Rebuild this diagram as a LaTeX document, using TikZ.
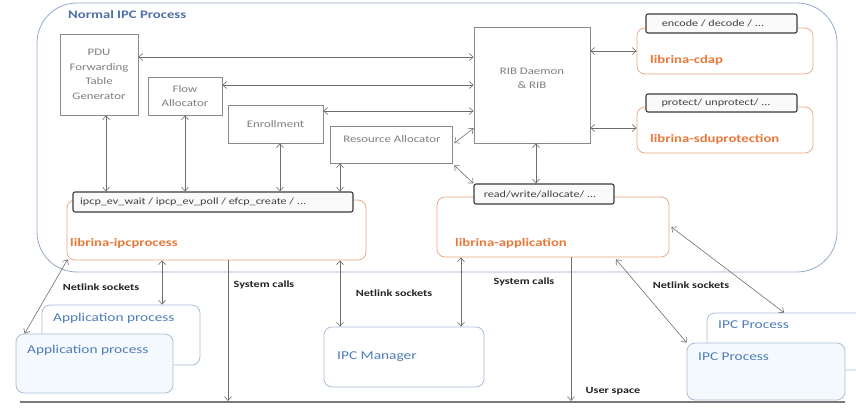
\documentclass[tikz,border=0pt]{standalone}
\usepackage{fontspec}
\setmainfont{Carlito}[FakeStretch=1.28]
\usetikzlibrary{arrows.meta,calc}

\definecolor{outerline}{HTML}{93AACB}
\definecolor{titleblue}{HTML}{4F6FA5}
\definecolor{boxgray}{HTML}{8A8A8A}
\definecolor{boxtext}{HTML}{7F7F7F}
\definecolor{tabline}{HTML}{3A3A3A}
\definecolor{tabfill}{HTML}{FAFAFA}
\definecolor{tabtext}{HTML}{404040}
\definecolor{libline}{HTML}{EBA47E}
\definecolor{libtext}{HTML}{E8793A}
\definecolor{procline}{HTML}{A9BDD6}
\definecolor{procfill}{HTML}{F4F9FD}
\definecolor{proctext}{HTML}{4F7CBA}
\definecolor{lbltext}{HTML}{222222}
\definecolor{arrgray}{HTML}{6E6E6E}
\definecolor{basegray}{HTML}{7A7A7A}

\begin{document}
\begin{tikzpicture}[x=1pt,y=-1pt,
  outerbox/.style={draw=outerline, line width=0.8pt, rounded corners=40pt, inner sep=0pt},
  titletxt/.style={text=titleblue, font=\bfseries\fontsize{11.5}{13}\selectfont, anchor=west, inner sep=0pt},
  box/.style={draw=boxgray, line width=0.6pt, fill=white, inner sep=0pt, text=boxtext,
              font=\fontsize{10}{14.5}\selectfont, align=center},
  boxtxt/.style={text=boxtext, font=\fontsize{10}{14}\selectfont, align=center, inner sep=0pt},
  tab/.style={draw=tabline, line width=1.1pt, rounded corners=2pt, fill=tabfill, inner sep=0pt},
  tabtxt/.style={text=tabtext, font=\fontsize{9.5}{11}\selectfont, inner sep=0pt},
  lib/.style={draw=libline, line width=0.7pt, rounded corners=8pt, fill=white, inner sep=0pt},
  libtxt/.style={text=libtext, font=\bfseries\fontsize{11.5}{13}\selectfont, anchor=west, inner sep=0pt},
  proc/.style={draw=procline, line width=0.8pt, rounded corners=8pt, fill=white, inner sep=0pt},
  procfront/.style={proc, fill=procfill},
  proctxt/.style={text=proctext, font=\fontsize{12}{14}\selectfont, anchor=west, inner sep=0pt},
  lbl/.style={text=lbltext, font=\bfseries\fontsize{9.5}{11}\selectfont, inner sep=0pt},
  arr/.style={draw=arrgray, line width=0.6pt,
              {Straight Barb[length=4pt,width=7pt]}-{Straight Barb[length=4pt,width=7pt]}},
  arrd/.style={draw=arrgray, line width=0.6pt, -{Straight Barb[length=4pt,width=7pt]}},
  base/.style={draw=basegray, line width=2pt}
]
\useasboundingbox (0,0) rectangle (856,408);

% ---- Normal IPC Process container ----
\node[outerbox, minimum width=800pt, minimum height=269pt] (nipcp) at (437,137.5) {};
\node[titletxt] (title) at (68,15) {Normal IPC Process};

% ---- components inside the IPC process ----
\node[box, minimum width=78pt, minimum height=81pt] (pdu) at (99,74.5)
  {PDU\\Forwarding\\Table\\Generator};
\node[box, minimum width=74pt, minimum height=38pt] (flow) at (185,96) {Flow\\Allocator};
\node[box, minimum width=95pt, minimum height=38pt] (enroll) at (275.5,124) {Enrollment};
\node[box, minimum width=122pt, minimum height=37pt] (ra) at (391,144.5) {};
\node[boxtxt] (ratxt) at (392,139) {Resource Allocator};
\node[box, minimum width=116pt, minimum height=116pt] (rib) at (532,85) {};
\node[boxtxt] (ribtxt) at (532,78) {RIB Daemon\\\& RIB};

% ---- librina-cdap ----
\node[lib, minimum width=176pt, minimum height=46pt] (cdap) at (725,51) {};
\node[libtxt] (cdaptxt) at (650,60) {librina-cdap};
\node[tab, minimum width=151pt, minimum height=19pt] (cdaptab) at (721.5,23.5) {};
\node[tabtxt] (cdaptabtxt) at (713,23.5) {encode / decode / ...};

% ---- librina-sduprotection ----
\node[lib, minimum width=176pt, minimum height=46pt] (sdu) at (725,130) {};
\node[libtxt] (sdutxt) at (650,139) {librina-sduprotection};
\node[tab, minimum width=151pt, minimum height=18pt] (sdutab) at (721.5,103) {};
\node[tabtxt] (sdutabtxt) at (716,103) {protect/ unprotect/ ...};

% ---- librina-ipcprocess ----
\node[lib, minimum width=299pt, minimum height=60pt] (ipcp) at (216.5,230) {};
\node[libtxt] (ipcptxt) at (70,243) {librina-ipcprocess};
\node[tab, minimum width=280pt, minimum height=20pt] (ipcptab) at (213,202) {};
\node[tabtxt, anchor=west] (ipcptabtxt) at (80,202) {ipcp\_ev\_wait / ipcp\_ev\_poll / efcp\_create / ...};

% ---- librina-application ----
\node[lib, minimum width=232pt, minimum height=60pt] (app) at (553,227) {};
\node[libtxt] (apptxt) at (455,243) {librina-application};
\node[tab, minimum width=140pt, minimum height=20pt] (apptab) at (544,194) {};
\node[tabtxt] (apptabtxt) at (540,194) {read/write/allocate/ ...};

% ---- connectors inside the IPC process ----
\draw[arr] ([yshift=17.5pt]pdu.east) -- ([yshift=17.5pt]pdu.east -| rib.west);
\draw[arr] ([yshift=11pt]flow.east) -- ([yshift=11pt]flow.east -| rib.west);
\draw[arr] ([yshift=13pt]enroll.east) -- ([yshift=13pt]enroll.east -| rib.west);
\draw[arr] ([yshift=1.5pt,xshift=2pt]ra.east) -- ([yshift=15pt]rib.south west);
\draw[arr] ([xshift=2pt,yshift=-2pt]ra.south east) -- (apptab.north west);
\draw[arr] ([xshift=4pt]rib.south) -- ([xshift=4pt]rib.south |- apptab.north);
\draw[arr] (rib.east |- cdap.west) -- (cdap.west);
\draw[arr] ([yshift=2pt]rib.east |- sdu.west) -- ([yshift=2pt]sdu.west);
\draw[arr] ([xshift=7pt]pdu.south) -- ([xshift=7pt]pdu.south |- ipcptab.north);
\draw[arr] (flow.south) -- (flow.south |- ipcptab.north);
\draw[arr] ([xshift=4.5pt]enroll.south) -- ([xshift=4.5pt]enroll.south |- ipcptab.north);
\draw[arr] ([xshift=-51pt]ra.south) -- ([xshift=-51pt]ra.south |- ipcptab.north);

% ---- user-space processes ----
\node[proc, minimum width=158pt, minimum height=60pt] (appback) at (121,335) {};
\node[proctxt] (appbacktxt) at (53,318) {Application process};
\node[procfront, minimum width=157pt, minimum height=59pt] (appfront) at (94.5,363.5) {};
\node[proctxt] (appfronttxt) at (27,350) {Application process};
\node[proc, minimum width=160pt, minimum height=60pt] (ipcmgr) at (404,357) {};
\node[proctxt] (ipcmgrtxt) at (337,357) {IPC Manager};
\node[proc, minimum width=168pt, minimum height=57pt] (ipcback) at (791,341.5) {};
\node[proctxt] (ipcbacktxt) at (718,325) {IPC Process};
\node[procfront, minimum width=158pt, minimum height=57pt] (ipcfront) at (766,371.5) {};
\node[proctxt] (ipcfronttxt) at (698,357) {IPC Process};

% ---- user / kernel boundary ----
\coordinate (bl) at (20,402);
\coordinate (br) at (845,402);
\draw[base] (bl) -- (br);
\node[lbl] (userspace) at (613,391) {User space};

% ---- connectors to user-space processes and the kernel ----
\draw[arr] ([shift={(1,-1)}]ipcp.south west) -- ([xshift=9pt]appfront.north west);
\draw[arr] ([xshift=-54.5pt]ipcp.south) -- ([xshift=-54.5pt]ipcp.south |- appback.north);
\draw[arrd] ([xshift=11.5pt]ipcp.south) -- ([xshift=11.5pt,yshift=1pt]ipcp.south |- bl);
\draw[arr] ([xshift=123.5pt]ipcp.south) -- ([xshift=123.5pt]ipcp.south |- ipcmgr.north);
\draw[arr] ([xshift=-92pt]app.south) -- ([xshift=-92pt]app.south |- ipcmgr.north);
\draw[arrd] ([xshift=18pt]app.south) -- ([xshift=18pt,yshift=1pt]app.south |- bl);
\draw[arr] ([xshift=63pt,yshift=-2pt]app.south) -- (ipcfront.north west);
\draw[arr] ([xshift=2pt]app.east) -- ([xshift=-7pt]ipcback.north);

\node[lbl] (nl1) at (101,287) {Netlink sockets};
\node[lbl] (sc1) at (264,285) {System calls};
\node[lbl] (nl2) at (394,293) {Netlink sockets};
\node[lbl] (sc2) at (524,282) {System calls};
\node[lbl] (nl3) at (691,285) {Netlink sockets};
\end{tikzpicture}
\end{document}
